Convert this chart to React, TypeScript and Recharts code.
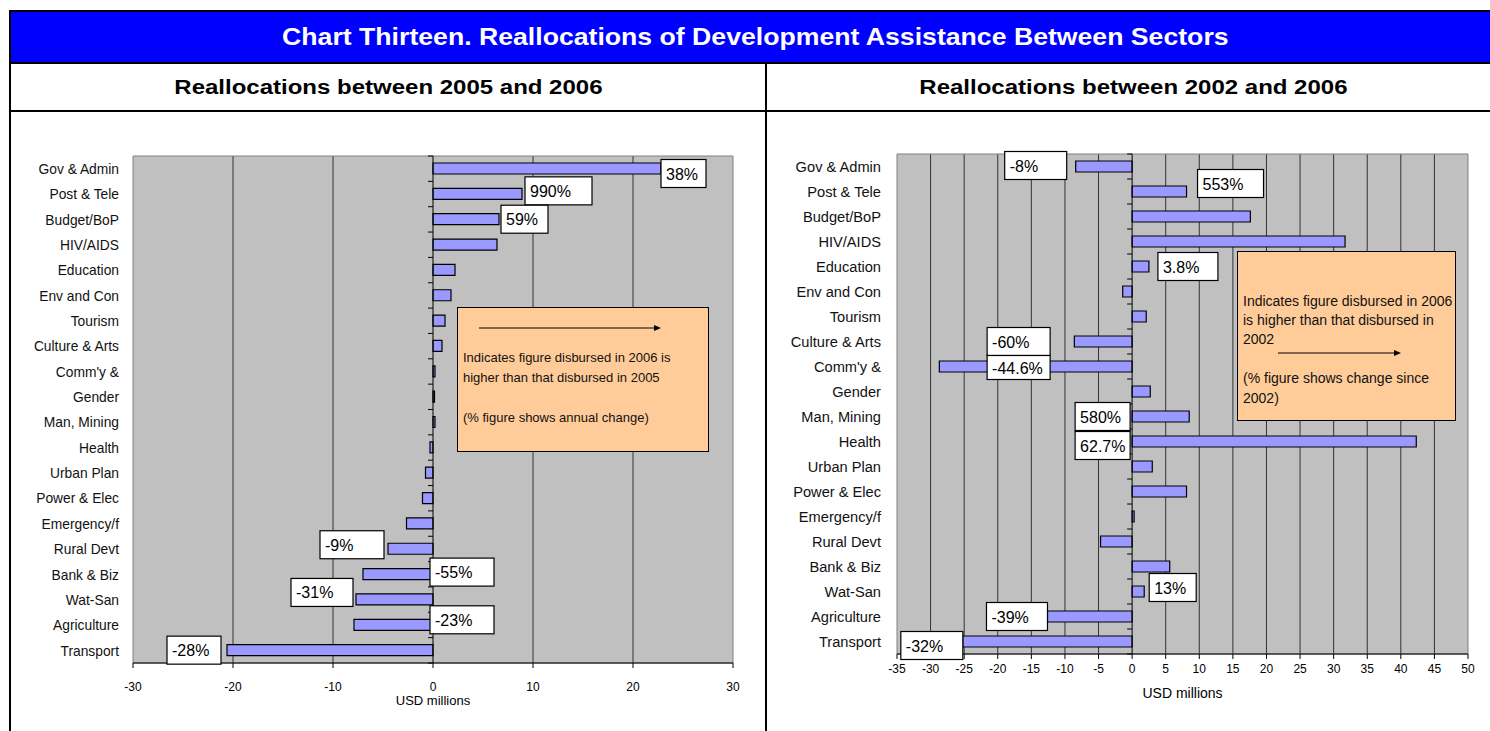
import React from "react";
import {
  BarChart,
  Bar,
  XAxis,
  YAxis,
  CartesianGrid,
  ReferenceLine,
  ReferenceArea,
  LabelList,
} from "recharts";

const sectors = [
  "Gov & Admin",
  "Post & Tele",
  "Budget/BoP",
  "HIV/AIDS",
  "Education",
  "Env and Con",
  "Tourism",
  "Culture & Arts",
  "Comm'y &",
  "Gender",
  "Man, Mining",
  "Health",
  "Urban Plan",
  "Power & Elec",
  "Emergency/f",
  "Rural Devt",
  "Bank & Biz",
  "Wat-San",
  "Agriculture",
  "Transport",
];

// USD millions, 2005 -> 2006
const change0506 = [22.8, 8.9, 6.6, 6.4, 2.2, 1.8, 1.2, 0.9, 0.2, 0.15, 0.2, -0.3, -0.75, -1.05, -2.65, -4.5, -7.0, -7.7, -7.9, -20.6];
const pct0506 = ["38%", "990%", "59%", "", "", "", "", "", "", "", "", "", "", "", "", "-9%", "-55%", "-31%", "-23%", "-28%"];

// USD millions, 2002 -> 2006
const change0206 = [-8.4, 8.1, 17.6, 31.7, 2.5, -1.4, 2.1, -8.6, -28.7, 2.7, 8.5, 42.3, 3.0, 8.1, 0.3, -4.7, 5.6, 1.8, -12.6, -25.2];
const pct0206 = ["-8%", "553%", "", "", "3.8%", "", "", "-60%", "-44.6%", "", "580%", "62.7%", "", "", "", "", "", "13%", "-39%", "-32%"];

const ticks0506 = [-30, -20, -10, 0, 10, 20, 30];
const ticks0206 = [-35, -30, -25, -20, -15, -10, -5, 0, 5, 10, 15, 20, 25, 30, 35, 40, 45, 50];

const ARIAL = "'Liberation Sans', Arial, sans-serif";

// where each % box sits: at the bar end or at zero, to its left or right
type Place = { at: "end" | "zero"; side: "left" | "right"; dx: number; dy: number; w: number; h?: number };

const place0506: Record<number, Place> = {
  0: { at: "end", side: "right", dx: 0, dy: 5, w: 45 },
  1: { at: "end", side: "right", dx: 3, dy: -3, w: 67 },
  2: { at: "end", side: "right", dx: 2, dy: 0, w: 47 },
  15: { at: "end", side: "left", dx: -4, dy: -4, w: 64 },
  16: { at: "zero", side: "right", dx: -3, dy: -2, w: 64 },
  17: { at: "end", side: "left", dx: -3, dy: -7, w: 62 },
  18: { at: "zero", side: "right", dx: -3, dy: -5, w: 64 },
  19: { at: "end", side: "left", dx: -6, dy: 0, w: 54 },
};

const place0206: Record<number, Place> = {
  0: { at: "end", side: "left", dx: -9, dy: -1, w: 62 },
  1: { at: "end", side: "right", dx: 11, dy: -8, w: 66 },
  4: { at: "end", side: "right", dx: 9, dy: 0, w: 60 },
  7: { at: "zero", side: "left", dx: -82, dy: 0, w: 63 },
  8: { at: "zero", side: "left", dx: -82, dy: 1, w: 63, h: 24 },
  10: { at: "zero", side: "left", dx: -2, dy: 0, w: 55 },
  11: { at: "zero", side: "left", dx: -2, dy: 4, w: 55 },
  17: { at: "end", side: "right", dx: 5, dy: -4, w: 47 },
  18: { at: "end", side: "left", dx: 0, dy: 0, w: 61 },
  19: { at: "end", side: "left", dx: 0, dy: 4, w: 62 },
};

function makeLabel(values: number[], places: Record<number, Place>) {
  return (props: any) => {
    const { x, y, width, height, value, index } = props;
    if (!value) return null;
    const p = places[index];
    if (!p) return null;
    const lo = Math.min(x, x + width);
    const hi = Math.max(x, x + width);
    const neg = values[index] < 0;
    const zeroX = neg ? hi : lo;
    const endX = neg ? lo : hi;
    const ref = (p.at === "zero" ? zeroX : endX) + p.dx;
    const h = p.h ?? 28;
    const bx = p.side === "right" ? ref : ref - p.w;
    const cy = y + height / 2 + p.dy;
    return (
      <g>
        <rect x={bx} y={cy - h / 2} width={p.w} height={h} fill="#fff" stroke="#000" strokeWidth={1.2} />
        <text x={bx + 5} y={cy + 6} fontSize={16} fontFamily={ARIAL} fill="#000">
          {value}
        </text>
      </g>
    );
  };
}

function zeroAxis(count: number) {
  return (props: any) => {
    const { x1, y1, y2 } = props;
    const step = (y2 - y1) / count;
    const marks = [];
    for (let i = 0; i <= count; i++) {
      const yy = y1 + step * i;
      marks.push(<line key={i} x1={x1 - 5} y1={yy} x2={x1} y2={yy} stroke="#000" strokeWidth={1} />);
    }
    return (
      <g>
        <line x1={x1} y1={y1} x2={x1} y2={y2} stroke="#000" strokeWidth={1} />
        {marks}
      </g>
    );
  };
}

// narrow-looking sector names (no Arial Narrow available, so squeeze Arial)
function catTick(size: number, squeeze: number) {
  return (props: any) => {
    const { x, y, payload } = props;
    return (
      <text
        transform={`translate(${x},${y}) scale(${squeeze},1)`}
        textAnchor="end"
        dy={size * 0.35}
        fontSize={size}
        fontFamily={ARIAL}
        fill="#111"
      >
        {payload.value}
      </text>
    );
  };
}

function SectorChart({
  values,
  pcts,
  ticks,
  places,
  width,
  height,
  margin,
  yWidth,
  labelSize,
  squeeze,
  tickMargin,
  tickGap,
  titleOffset,
  titleSize,
}: {
  values: number[];
  pcts: string[];
  ticks: number[];
  places: Record<number, Place>;
  width: number;
  height: number;
  margin: { top: number; right: number; bottom: number; left: number };
  yWidth: number;
  labelSize: number;
  squeeze: number;
  tickMargin: number;
  tickGap: number;
  titleOffset: number;
  titleSize: number;
}) {
  const rows = sectors.map((name, i) => ({ name, value: values[i], label: pcts[i] }));
  const lo = ticks[0];
  const hi = ticks[ticks.length - 1];
  return (
    <BarChart width={width} height={height} data={rows} layout="vertical" margin={margin}>
      <CartesianGrid
        horizontal={false}
        vertical
        verticalValues={ticks.filter((t) => t !== lo && t !== hi && t !== 0)}
        stroke="#333"
        strokeOpacity={1}
        fill="#C0C0C0"
        fillOpacity={1}
      />
      <ReferenceArea x1={lo} x2={hi} fill="none" stroke="#808080" strokeWidth={1} ifOverflow="visible" />
      <XAxis
        type="number"
        domain={[lo, hi]}
        ticks={ticks}
        interval={0}
        height={40}
        axisLine={{ stroke: "#000" }}
        tickLine={{ stroke: "#000" }}
        tickSize={5}
        tickMargin={tickGap}
        tick={{ fontSize: 12, fontFamily: ARIAL, fill: "#000" }}
        label={{ value: "USD millions", position: "insideBottom", offset: titleOffset, fontSize: titleSize, fontFamily: ARIAL, fill: "#000" }}
      />
      <YAxis
        type="category"
        dataKey="name"
        width={yWidth}
        axisLine={false}
        tickLine={false}
        tickSize={0}
        tickMargin={tickMargin}
        interval={0}
        tick={catTick(labelSize, squeeze)}
      />
      <ReferenceLine x={0} shape={zeroAxis(sectors.length)} />
      <Bar dataKey="value" barSize={11} fill="#9999FF" stroke="#000" strokeWidth={1.2} isAnimationActive={false}>
        <LabelList dataKey="label" content={makeLabel(values, places)} />
      </Bar>
    </BarChart>
  );
}

function Arrow({ x1, x2, y }: { x1: number; x2: number; y: number }) {
  return (
    <svg style={{ position: "absolute", left: x1, top: y - 4 }} width={x2 - x1 + 2} height={8}>
      <line x1={0} y1={4} x2={x2 - x1 - 6} y2={4} stroke="#000" strokeWidth={1.2} />
      <polygon points={`${x2 - x1 - 7},1 ${x2 - x1},4 ${x2 - x1 - 7},7`} fill="#000" />
    </svg>
  );
}

const note: React.CSSProperties = {
  position: "absolute",
  fontFamily: ARIAL,
  color: "#111",
  whiteSpace: "nowrap",
};

// headings are a little wider in the original than plain Arial
function Stretched({ text, scale }: { text: string; scale: number }) {
  return <span style={{ display: "inline-block", transform: `scaleX(${scale})` }}>{text}</span>;
}

export default function App() {
  return (
    <div
      style={{
        position: "absolute",
        left: 0,
        top: 0,
        width: 1490,
        height: 731,
        overflow: "hidden",
        background: "#fff",
        fontFamily: ARIAL,
      }}
    >
      {/* frame */}
      <div style={{ position: "absolute", left: 9, top: 10, width: 1500, height: 800, border: "2px solid #000", boxSizing: "border-box" }} />
      <div style={{ position: "absolute", left: 11, top: 12, width: 1490, height: 50, background: "#0000FF" }} />
      <div
        style={{
          position: "absolute",
          left: 11,
          top: 12,
          width: 1488,
          height: 50,
          lineHeight: "50px",
          textAlign: "center",
          color: "#fff",
          fontWeight: 700,
          fontSize: 24,
          whiteSpace: "nowrap",
        }}
      >
        <Stretched text="Chart Thirteen. Reallocations of Development Assistance Between Sectors" scale={1.11} />
      </div>
      <div style={{ position: "absolute", left: 9, top: 62, width: 1500, height: 2, background: "#000" }} />
      <div style={{ position: "absolute", left: 9, top: 110, width: 1500, height: 2, background: "#000" }} />
      <div style={{ position: "absolute", left: 765, top: 62, width: 2, height: 700, background: "#000" }} />
      <div style={{ position: "absolute", left: 11, top: 64, width: 754, height: 46, lineHeight: "46px", textAlign: "center", fontWeight: 700, fontSize: 20, whiteSpace: "nowrap" }}>
        <Stretched text="Reallocations between 2005 and 2006" scale={1.2} />
      </div>
      <div style={{ position: "absolute", left: 767, top: 64, width: 733, height: 46, lineHeight: "46px", textAlign: "center", fontWeight: 700, fontSize: 20, whiteSpace: "nowrap" }}>
        <Stretched text="Reallocations between 2002 and 2006" scale={1.2} />
      </div>

      {/* left chart */}
      <div style={{ position: "absolute", left: 0, top: 111 }}>
        <SectorChart
          values={change0506}
          pcts={pct0506}
          ticks={ticks0506}
          places={place0506}
          width={766}
          height={620}
          margin={{ top: 45, right: 33, bottom: 28, left: 0 }}
          yWidth={133}
          labelSize={15}
          squeeze={0.92}
          tickMargin={14}
          tickGap={14}
          titleOffset={-2}
          titleSize={13}
        />
      </div>

      {/* right chart */}
      <div style={{ position: "absolute", left: 766, top: 111 }}>
        <SectorChart
          values={change0206}
          pcts={pct0206}
          ticks={ticks0206}
          places={place0206}
          width={724}
          height={620}
          margin={{ top: 43, right: 22, bottom: 37, left: 0 }}
          yWidth={131}
          labelSize={15.5}
          squeeze={0.945}
          tickMargin={16}
          tickGap={5}
          titleOffset={-4}
          titleSize={14}
        />
      </div>

      {/* notes */}
      <div style={{ position: "absolute", left: 457, top: 307, width: 252, height: 145, background: "#FFCC99", border: "1px solid #000", boxSizing: "border-box" }} />
      <Arrow x1={479} x2={661} y={328} />
      <div style={{ ...note, left: 463, top: 348, fontSize: 13, lineHeight: "20px" }}>
        Indicates figure disbursed in 2006 is
        <br />
        higher than that disbursed in 2005
        <br />
        <br />
        (% figure shows annual change)
      </div>

      <div style={{ position: "absolute", left: 1237, top: 251, width: 219, height: 170, background: "#FFCC99", border: "1.5px solid #000", boxSizing: "border-box" }} />
      <div style={{ ...note, left: 1243, top: 292, fontSize: 14, lineHeight: "19px" }}>
        Indicates figure disbursed in 2006
        <br />
        is higher than that disbursed in
        <br />
        2002
      </div>
      <Arrow x1={1278} x2={1401} y={353} />
      <div style={{ ...note, left: 1243, top: 368, fontSize: 14, lineHeight: "20px" }}>
        (% figure shows change since
        <br />
        2002)
      </div>
    </div>
  );
}
